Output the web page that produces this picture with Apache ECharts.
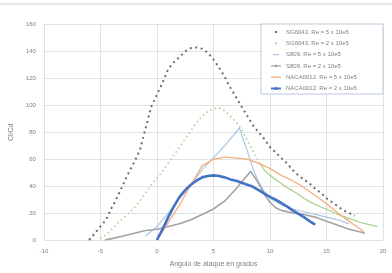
<!DOCTYPE html>
<html><head><meta charset="utf-8">
<script src="https://cdn.jsdelivr.net/npm/echarts@6/dist/echarts.min.js"></script>
<style>html,body{margin:0;padding:0;background:#fff}#c{width:392px;height:273px}</style>
</head><body><div id="c"></div>
<script>
var seriesNames = ['SG6043. Re = 5 x 10e5','SG6043. Re = 2 x 10e5','S809. Re = 5 x 10e5','S809. Re = 2 x 10e5','NACA0012. Re = 5 x 10e5','NACA0012. Re = 2 x 10e5'];
var xTicks = [-10,-5,0,5,10,15,20];
var yTicks = [0,20,40,60,80,100,120,140,160];

var sg5Alpha = [-6,-5.5,-5,-4.5,-4,-3.5,-3,-2.5,-2,-1.5,-1,-0.5,0,0.5,1,1.5,2,2.5,3,3.5,4,4.5,5,5.5,6,6.5,7,7.5,8,8.5,9,9.5,10,10.5,11,11.5,12,12.5,13,13.5,14,14.5,15,15.5,16,16.5,17,17.5];
var sg5Val   = [0,5,10,15,24,32,41,50,58,67,83,99,108,117,127,132,136,140,142.5,143,142,139,134,128,121,113,106,99,92,85,80,75,69,65,61,57,52,48,45,42,38,35,31,28,25,22,20,18];

var sg2Alpha = [-5,-4.5,-4,-3.5,-3,-2.5,-2,-1.5,-1,-0.5,0,0.5,1,1.5,2,2.5,3,3.5,4,4.5,5,5.5,6,6.5,7,7.5,8,8.5,9];
var sg2Val   = [1,4,8,12,16,20,24,29,35,41,46,51,57,63,69,75,81,87,92,95.5,97.5,98,96,92,87.5,82,74,66,58];
var sg2TailAlpha = [9,9.5,10,10.5,11,11.5,12,12.5,13,13.5,14,14.5,15,15.5,16,16.5,17,17.5,18,18.5,19,19.5];
var sg2TailVal   = [58,52,48,45,42,39,36.5,34,31,28.5,26.5,24.5,23,21,19,17.5,16,14.5,13,12,11,10];

var s8r5Alpha = [-1,0,1,2,3,4,5,6,7,7.3,8,8.5,9,9.5,10,11,12,13,14,15,16,17];
var s8r5Val   = [3,10,20,31,41,52,61,70,80,83,66,53,43,36,31,26,23,21,19,17,15,12];

var s8r2Alpha = [-4.6,-4,-3,-2,-1,0,1,2,3,4,5,6,7,8,8.3,9,9.5,10,10.5,11,12,13,14,15,16,17,18,18.4];
var s8r2Val   = [0,1,3,5,7,8,10,12,15,19,23,29,38,48,51,42,34,28,24,22,20,19,17,14,11,8,6,5];

var n5Alpha = [0,1,2,3,4,5,6,7,8,9,10,11,12,13,14,15,16,17,18,18.3];
var n5Val   = [0,13,26,41,55,60,61.5,61,60,57,53,48,44,39,33,27,20,14,8,6];

var n2Alpha = [0,0.5,1,1.5,2,2.5,3,3.5,4,4.5,5,5.5,6,6.5,7,7.5,8,8.5,9,9.5,10,10.5,11,11.5,12,12.5,13,13.5,14];
var n2Val   = [0,8,17,25,32,37,41,44,46.5,47.5,48,47.5,46.5,45,44,42.5,41,39.5,37,34.5,32,30,27.5,25,22,19.5,17,14,11.5];

function pairs(a,v){return a.map(function(x,i){return [x,v[i]];});}

var colors = ['#6e6e6e','#b7cf8f','#a9c8e8','#a3a3a3','#f4b183','#4472c4'];
var tailGreen = '#a9d18e';
var txt = '#7f7f7f';

// legend geometry
var legLeft = 261, legTop = 24, legW = 122, legH = 70;
var padTop = 4, rowH = 8, rowGap = 3.3, iconX = 271, iconW = 10;
function rowY(i){ return legTop + padTop + rowH/2 + i*(rowH+rowGap); }

var icons = [];
// dot icons
icons.push({type:'rect',shape:{x:iconX+4,y:rowY(0)-1,width:2,height:2},style:{fill:colors[0]},z:30,silent:true});
icons.push({type:'rect',shape:{x:iconX+4,y:rowY(1)-1,width:2,height:2},style:{fill:colors[1]},z:30,silent:true});
// line icons
icons.push({type:'line',shape:{x1:iconX+2,y1:rowY(2),x2:iconX+8,y2:rowY(2)},style:{stroke:colors[2],lineWidth:1.2},z:30,silent:true});
icons.push({type:'line',shape:{x1:iconX,y1:rowY(3),x2:iconX+iconW,y2:rowY(3)},style:{stroke:colors[3],lineWidth:1.2},z:30,silent:true});
icons.push({type:'circle',shape:{cx:iconX+iconW/2,cy:rowY(3),r:1.3},style:{fill:colors[3]},z:31,silent:true});
icons.push({type:'line',shape:{x1:iconX,y1:rowY(4),x2:iconX+iconW,y2:rowY(4)},style:{stroke:colors[4],lineWidth:1.3},z:30,silent:true});
icons.push({type:'line',shape:{x1:iconX,y1:rowY(5),x2:iconX+iconW,y2:rowY(5)},style:{stroke:colors[5],lineWidth:2},z:30,silent:true});
icons.push({type:'circle',shape:{cx:iconX+iconW/2,cy:rowY(5),r:1.6},style:{fill:colors[5]},z:31,silent:true});

var chart = echarts.init(document.getElementById('c'), null, {renderer:'canvas'});
chart.setOption({
  animation:false,
  color: colors,
  grid:{left:27,right:9,top:24.5,bottom:32},
  graphic:[
    {type:'rect',shape:{x:0,y:3,width:392,height:2},style:{fill:'#e6e6e6'},silent:true},
    {type:'rect',shape:{x:legLeft,y:legTop,width:legW,height:legH},style:{fill:'#ffffff',stroke:'#bcc8dc',lineWidth:1},z:10,silent:true}
  ].concat(icons),
  legend:{
    orient:'vertical', left:legLeft, top:legTop, padding:[padTop,5,3,iconX-legLeft], itemGap:rowGap,
    itemWidth:iconW, itemHeight:rowH, z:20, icon:'rect',
    itemStyle:{opacity:0},
    textStyle:{fontSize:6, color:txt, fontFamily:'Liberation Sans', lineHeight:8},
    data: seriesNames
  },
  xAxis:{type:'value',min:-10,max:20,interval:5,
    name:'Angulo de ataque en grados',nameLocation:'middle',nameGap:21,
    nameTextStyle:{fontSize:7,color:txt,fontFamily:'Liberation Sans'},
    axisLine:{show:false},axisTick:{show:false},
    axisLabel:{fontSize:6,color:txt,margin:8,fontFamily:'Liberation Sans'},
    splitLine:{lineStyle:{color:'#e2e2e2',width:1}}},
  yAxis:{type:'value',min:0,max:160,interval:20,
    name:'Cl/Cd',nameLocation:'middle',nameGap:19,nameRotate:90,
    nameTextStyle:{fontSize:7,color:txt,fontFamily:'Liberation Sans'},
    axisLine:{show:false},axisTick:{show:false},
    axisLabel:{fontSize:6,color:txt,margin:8,fontFamily:'Liberation Sans'},
    splitLine:{lineStyle:{color:'#e2e2e2',width:1}}},
  series:[
    {name:seriesNames[0],type:'line',symbol:'none',data:pairs(sg5Alpha,sg5Val),
      lineStyle:{width:2,type:[2,3.5],color:colors[0]}},
    {name:seriesNames[1],type:'line',symbol:'none',data:pairs(sg2Alpha,sg2Val),
      lineStyle:{width:1.6,type:[1.6,3],color:colors[1]}},
    {name:seriesNames[1],type:'line',symbol:'none',data:pairs(sg2TailAlpha,sg2TailVal),
      lineStyle:{width:1.3,color:tailGreen}},
    {name:seriesNames[2],type:'line',symbol:'none',data:pairs(s8r5Alpha,s8r5Val),
      lineStyle:{width:1.2,color:colors[2]}},
    {name:seriesNames[3],type:'line',symbol:'none',data:pairs(s8r2Alpha,s8r2Val),
      lineStyle:{width:1.6,color:colors[3]}},
    {name:seriesNames[4],type:'line',symbol:'none',data:pairs(n5Alpha,n5Val),
      lineStyle:{width:1.4,color:colors[4]}},
    {name:seriesNames[5],type:'line',symbol:'none',data:pairs(n2Alpha,n2Val),
      lineStyle:{width:2.6,color:colors[5]}}
  ]
});
</script></body></html>
